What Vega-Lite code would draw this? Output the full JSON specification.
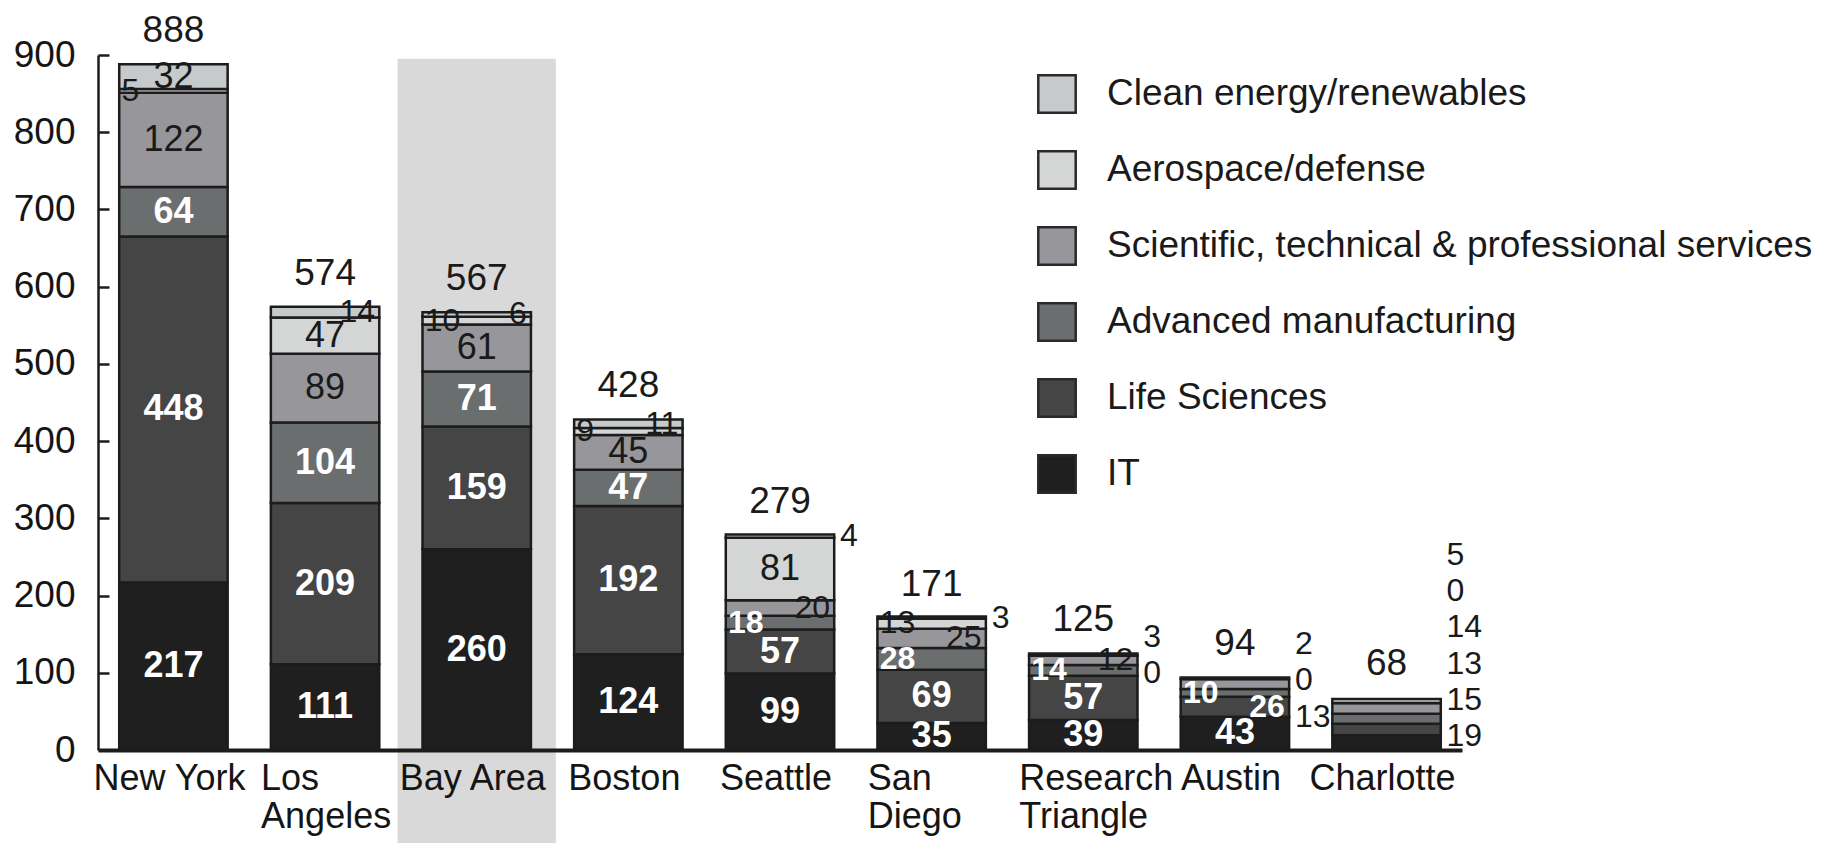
{
  "$schema": "https://vega.github.io/schema/vega-lite/v6.json",
  "width": 1364,
  "height": 695,
  "autosize": {"type": "none"},
  "padding": {"left": 98, "top": 55, "right": 382, "bottom": 93},
  "background": "white",
  "config": {
    "view": {"stroke": null},
    "font": "Liberation Sans",
    "text": {"font": "Liberation Sans"}
  },
  "datasets": {
    "seg": [
      {"city": "New York", "sector": "IT", "value": 217},
      {"city": "New York", "sector": "Life Sciences", "value": 448},
      {"city": "New York", "sector": "Advanced manufacturing", "value": 64},
      {"city": "New York", "sector": "Scientific, technical & professional services", "value": 122},
      {"city": "New York", "sector": "Aerospace/defense", "value": 5},
      {"city": "New York", "sector": "Clean energy/renewables", "value": 32},
      {"city": "Los Angeles", "sector": "IT", "value": 111},
      {"city": "Los Angeles", "sector": "Life Sciences", "value": 209},
      {"city": "Los Angeles", "sector": "Advanced manufacturing", "value": 104},
      {"city": "Los Angeles", "sector": "Scientific, technical & professional services", "value": 89},
      {"city": "Los Angeles", "sector": "Aerospace/defense", "value": 47},
      {"city": "Los Angeles", "sector": "Clean energy/renewables", "value": 14},
      {"city": "Bay Area", "sector": "IT", "value": 260},
      {"city": "Bay Area", "sector": "Life Sciences", "value": 159},
      {"city": "Bay Area", "sector": "Advanced manufacturing", "value": 71},
      {"city": "Bay Area", "sector": "Scientific, technical & professional services", "value": 61},
      {"city": "Bay Area", "sector": "Aerospace/defense", "value": 10},
      {"city": "Bay Area", "sector": "Clean energy/renewables", "value": 6},
      {"city": "Boston", "sector": "IT", "value": 124},
      {"city": "Boston", "sector": "Life Sciences", "value": 192},
      {"city": "Boston", "sector": "Advanced manufacturing", "value": 47},
      {"city": "Boston", "sector": "Scientific, technical & professional services", "value": 45},
      {"city": "Boston", "sector": "Aerospace/defense", "value": 9},
      {"city": "Boston", "sector": "Clean energy/renewables", "value": 11},
      {"city": "Seattle", "sector": "IT", "value": 99},
      {"city": "Seattle", "sector": "Life Sciences", "value": 57},
      {"city": "Seattle", "sector": "Advanced manufacturing", "value": 18},
      {"city": "Seattle", "sector": "Scientific, technical & professional services", "value": 20},
      {"city": "Seattle", "sector": "Aerospace/defense", "value": 81},
      {"city": "Seattle", "sector": "Clean energy/renewables", "value": 4},
      {"city": "San Diego", "sector": "IT", "value": 35},
      {"city": "San Diego", "sector": "Life Sciences", "value": 69},
      {"city": "San Diego", "sector": "Advanced manufacturing", "value": 28},
      {"city": "San Diego", "sector": "Scientific, technical & professional services", "value": 25},
      {"city": "San Diego", "sector": "Aerospace/defense", "value": 13},
      {"city": "San Diego", "sector": "Clean energy/renewables", "value": 3},
      {"city": "Research Triangle", "sector": "IT", "value": 39},
      {"city": "Research Triangle", "sector": "Life Sciences", "value": 57},
      {"city": "Research Triangle", "sector": "Advanced manufacturing", "value": 14},
      {"city": "Research Triangle", "sector": "Scientific, technical & professional services", "value": 12},
      {"city": "Research Triangle", "sector": "Aerospace/defense", "value": 0},
      {"city": "Research Triangle", "sector": "Clean energy/renewables", "value": 3},
      {"city": "Austin", "sector": "IT", "value": 43},
      {"city": "Austin", "sector": "Life Sciences", "value": 26},
      {"city": "Austin", "sector": "Advanced manufacturing", "value": 10},
      {"city": "Austin", "sector": "Scientific, technical & professional services", "value": 13},
      {"city": "Austin", "sector": "Aerospace/defense", "value": 0},
      {"city": "Austin", "sector": "Clean energy/renewables", "value": 2},
      {"city": "Charlotte", "sector": "IT", "value": 19},
      {"city": "Charlotte", "sector": "Life Sciences", "value": 15},
      {"city": "Charlotte", "sector": "Advanced manufacturing", "value": 13},
      {"city": "Charlotte", "sector": "Scientific, technical & professional services", "value": 14},
      {"city": "Charlotte", "sector": "Aerospace/defense", "value": 0},
      {"city": "Charlotte", "sector": "Clean energy/renewables", "value": 5}
    ],
    "tot": [
      {"city": "New York", "total": 888},
      {"city": "Los Angeles", "total": 574},
      {"city": "Bay Area", "total": 567},
      {"city": "Boston", "total": 428},
      {"city": "Seattle", "total": 279},
      {"city": "San Diego", "total": 171},
      {"city": "Research Triangle", "total": 125},
      {"city": "Austin", "total": 94},
      {"city": "Charlotte", "total": 68}
    ]
  },
  "layer": [
    {
      "data": {"values": [{"city": "Bay Area"}]},
      "mark": {"type": "bar", "width": {"band": 1.46}, "color": "#d9d9d9"},
      "encoding": {
        "x": {"field": "city", "type": "nominal", "sort": ["New York", "Los Angeles", "Bay Area", "Boston", "Seattle", "San Diego", "Research Triangle", "Austin", "Charlotte"], "scale": {"type": "band", "paddingInner": 0.285, "paddingOuter": 0.14}, "axis": {"title": null}},
        "y": {"datum": 895, "type": "quantitative", "scale": {"domain": [0, 900], "nice": false, "zero": false}, "axis": {"title": null}},
        "y2": {"datum": -130}
      }
    },
    {
      "data": {"name": "seg"},
      "transform": [
        {"calculate": "indexof(['IT','Life Sciences','Advanced manufacturing','Scientific, technical & professional services','Aerospace/defense','Clean energy/renewables'], datum.sector)", "as": "ord"},
        {"stack": "value", "groupby": ["city"], "sort": [{"field": "ord", "order": "ascending"}], "as": ["v0", "v1"]},
        {"calculate": "(datum.v0 + datum.v1) / 2", "as": "mid"},
        {"joinaggregate": [{"op": "sum", "field": "value", "as": "tsum"}], "groupby": ["city"]},
        {"calculate": "datum.value >= 30 ? 'c' : ((datum.value < 5 || datum.tsum < 80 || (datum.tsum < 100 && datum.ord >= 3)) ? 'o' : ((datum.ord == 2 || datum.ord == 4) ? 'l' : 'r'))", "as": "cls"},
        {"window": [{"op": "row_number", "as": "rk"}], "groupby": ["city", "cls"], "sort": [{"field": "ord", "order": "ascending"}]},
        {"joinaggregate": [{"op": "mean", "field": "mid", "as": "mm"}, {"op": "count", "as": "n"}], "groupby": ["city", "cls"]},
        {"calculate": "datum.cls == 'c' ? datum.mid : max(datum.mm - (datum.n - 1) / 2 * 47, 18) + (datum.rk - 1) * 47", "as": "ly"}
      ],
      "layer": [
        {
          "mark": {"type": "bar", "stroke": "#1c1c1c", "strokeWidth": 2.5},
          "encoding": {
            "x": {"field": "city", "type": "nominal", "sort": ["New York", "Los Angeles", "Bay Area", "Boston", "Seattle", "San Diego", "Research Triangle", "Austin", "Charlotte"],
              "axis": {
                "title": null, "zindex": 1, "ticks": false, "labelAngle": 0,
                "domainColor": "#1c1c1c", "domainWidth": 4,
                "labelFontSize": 36, "labelColor": "#151515", "labelFont": "Liberation Sans",
                "labelPadding": 11, "labelLineHeight": 38, "labelLimit": 400, "labelOverlap": false, "labelBound": false,
                "labelBaseline": "top",
                "labelExpr": "indexof(['Los Angeles','San Diego','Research Triangle'], datum.value) >= 0 ? split(datum.value, ' ') : datum.value",
                "labelAlign": {"condition": {"test": "indexof(['Los Angeles','San Diego','Research Triangle'], datum.value) >= 0", "value": "left"}, "value": "center"},
                "labelOffset": {"condition": {"test": "indexof(['Los Angeles','San Diego','Research Triangle'], datum.value) >= 0", "value": -64}, "value": -4}
              }},
            "y": {"field": "v1", "type": "quantitative",
              "axis": {
                "title": null, "zindex": 1, "grid": false,
                "values": [0, 100, 200, 300, 400, 500, 600, 700, 800, 900],
                "domainColor": "#1c1c1c", "domainWidth": 2.5,
                "tickColor": "#1c1c1c", "tickWidth": 2.5, "tickSize": -11,
                "labelFontSize": 37, "labelColor": "#151515", "labelFont": "Liberation Sans",
                "labelPadding": 34, "labelBound": false, "labelOverlap": false
              }},
            "y2": {"field": "v0"},
            "color": {
              "field": "sector", "type": "nominal",
              "scale": {
                "domain": ["Clean energy/renewables", "Aerospace/defense", "Scientific, technical & professional services", "Advanced manufacturing", "Life Sciences", "IT"],
                "range": ["#c6caca", "#d4d5d5", "#97979b", "#6b6e6e", "#454545", "#1f1f1f"]
              },
              "legend": {
                "title": null, "orient": "none", "legendX": 939, "legendY": 19,
                "symbolType": "square", "symbolSize": 1400, "symbolStrokeColor": "#2a2a2a", "symbolStrokeWidth": 2.5, "symbolOpacity": 1,
                "labelFontSize": 37, "labelFont": "Liberation Sans", "labelColor": "#1a1a1a", "labelOffset": 30, "labelLimit": 1000,
                "rowPadding": 28
              }
            }
          }
        },
        {
          "transform": [{"filter": "datum.cls == 'c' && datum.ord <= 2"}],
          "mark": {"type": "text", "fontSize": 36, "fontWeight": "bold", "fill": "white", "baseline": "middle"},
          "encoding": {
            "x": {"field": "city", "type": "nominal", "sort": ["New York", "Los Angeles", "Bay Area", "Boston", "Seattle", "San Diego", "Research Triangle", "Austin", "Charlotte"], "axis": {"title": null}},
            "y": {"field": "ly", "type": "quantitative", "axis": {"title": null}},
            "text": {"field": "value", "type": "quantitative"}
          }
        },
        {
          "transform": [{"filter": "datum.cls == 'c' && datum.ord >= 3"}],
          "mark": {"type": "text", "fontSize": 36, "fill": "#1a1a1a", "baseline": "middle"},
          "encoding": {
            "x": {"field": "city", "type": "nominal", "sort": ["New York", "Los Angeles", "Bay Area", "Boston", "Seattle", "San Diego", "Research Triangle", "Austin", "Charlotte"], "axis": {"title": null}},
            "y": {"field": "ly", "type": "quantitative", "axis": {"title": null}},
            "text": {"field": "value", "type": "quantitative"}
          }
        },
        {
          "transform": [{"filter": "datum.cls == 'l' && datum.ord <= 2"}],
          "mark": {"type": "text", "fontSize": 32, "fontWeight": "bold", "fill": "white", "baseline": "middle", "align": "left", "dx": -52},
          "encoding": {
            "x": {"field": "city", "type": "nominal", "sort": ["New York", "Los Angeles", "Bay Area", "Boston", "Seattle", "San Diego", "Research Triangle", "Austin", "Charlotte"], "axis": {"title": null}},
            "y": {"field": "ly", "type": "quantitative", "axis": {"title": null}},
            "text": {"field": "value", "type": "quantitative"}
          }
        },
        {
          "transform": [{"filter": "datum.cls == 'l' && datum.ord >= 3"}],
          "mark": {"type": "text", "fontSize": 32, "fill": "#1a1a1a", "baseline": "middle", "align": "left", "dx": -52},
          "encoding": {
            "x": {"field": "city", "type": "nominal", "sort": ["New York", "Los Angeles", "Bay Area", "Boston", "Seattle", "San Diego", "Research Triangle", "Austin", "Charlotte"], "axis": {"title": null}},
            "y": {"field": "ly", "type": "quantitative", "axis": {"title": null}},
            "text": {"field": "value", "type": "quantitative"}
          }
        },
        {
          "transform": [{"filter": "datum.cls == 'r' && datum.ord <= 2"}],
          "mark": {"type": "text", "fontSize": 32, "fontWeight": "bold", "fill": "white", "baseline": "middle", "align": "right", "dx": 50},
          "encoding": {
            "x": {"field": "city", "type": "nominal", "sort": ["New York", "Los Angeles", "Bay Area", "Boston", "Seattle", "San Diego", "Research Triangle", "Austin", "Charlotte"], "axis": {"title": null}},
            "y": {"field": "ly", "type": "quantitative", "axis": {"title": null}},
            "text": {"field": "value", "type": "quantitative"}
          }
        },
        {
          "transform": [{"filter": "datum.cls == 'r' && datum.ord >= 3"}],
          "mark": {"type": "text", "fontSize": 32, "fill": "#1a1a1a", "baseline": "middle", "align": "right", "dx": 50},
          "encoding": {
            "x": {"field": "city", "type": "nominal", "sort": ["New York", "Los Angeles", "Bay Area", "Boston", "Seattle", "San Diego", "Research Triangle", "Austin", "Charlotte"], "axis": {"title": null}},
            "y": {"field": "ly", "type": "quantitative", "axis": {"title": null}},
            "text": {"field": "value", "type": "quantitative"}
          }
        },
        {
          "transform": [{"filter": "datum.cls == 'o'"}],
          "mark": {"type": "text", "fontSize": 32, "fill": "#1a1a1a", "baseline": "middle", "align": "left", "dx": 60},
          "encoding": {
            "x": {"field": "city", "type": "nominal", "sort": ["New York", "Los Angeles", "Bay Area", "Boston", "Seattle", "San Diego", "Research Triangle", "Austin", "Charlotte"], "axis": {"title": null}},
            "y": {"field": "ly", "type": "quantitative", "axis": {"title": null}},
            "text": {"field": "value", "type": "quantitative"}
          }
        }
      ]
    },
    {
      "data": {"name": "tot"},
      "mark": {"type": "text", "fontSize": 37, "fill": "#1a1a1a", "baseline": "bottom", "dy": -14},
      "encoding": {
        "x": {"field": "city", "type": "nominal", "sort": ["New York", "Los Angeles", "Bay Area", "Boston", "Seattle", "San Diego", "Research Triangle", "Austin", "Charlotte"], "axis": {"title": null}},
        "y": {"field": "total", "type": "quantitative", "axis": {"title": null}},
        "text": {"field": "total", "type": "quantitative"}
      }
    }
  ]
}
